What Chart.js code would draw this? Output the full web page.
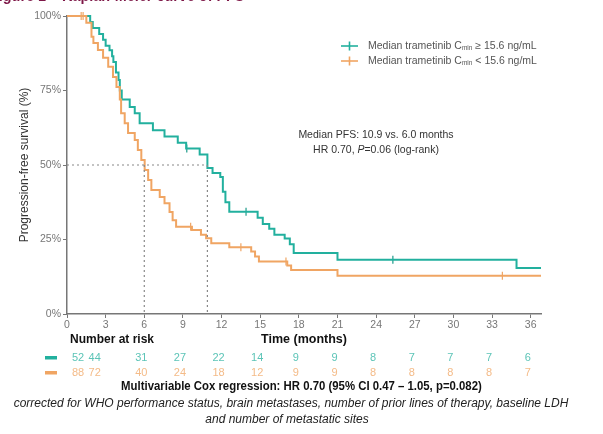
<!DOCTYPE html>
<html>
<head>
<meta charset="utf-8">
<script src="https://cdn.jsdelivr.net/npm/chart.js@4.4.0/dist/chart.umd.min.js"></script>
<style>
  html, body { margin: 0; padding: 0; background: #fff; }
  #wrap { position: relative; width: 603px; height: 434px; overflow: hidden; }
  #km { position: absolute; left: 0; top: 0; }
  .txt { position: absolute; white-space: nowrap; font-family: "Liberation Sans", Arial, sans-serif; }
  #fig { left: -10px; top: -13px; font-weight: bold; font-size: 16px; color: #7d1747; transform: scaleX(0.9); transform-origin: left top; }
  #cox { left: 0; width: 603px; text-align: center; top: 379px; font-weight: bold; font-size: 12.5px; color: #111; transform: scaleX(0.91); transform-origin: 301px 0; }
  #adj1 { left: 0; width: 582px; text-align: center; top: 396px; font-style: italic; font-size: 12px; color: #222; }
  #adj2 { left: 0; width: 574px; text-align: center; top: 412px; font-style: italic; font-size: 12px; color: #222; }
</style>
</head>
<body>
<div id="wrap">
  <canvas id="km" width="603" height="434"></canvas>
  <div class="txt" id="fig">Figure 1 – Kaplan-Meier curve of PFS</div>
  <div class="txt" id="cox">Multivariable Cox regression: HR 0.70 (95% CI 0.47 – 1.05, p=0.082)</div>
  <div class="txt" id="adj1">corrected for WHO performance status, brain metastases, number of prior lines of therapy, baseline LDH</div>
  <div class="txt" id="adj2">and number of metastatic sites</div>
</div>
<script>
// survival curves (months, % progression-free)
const xTicks = [0, 3, 6, 9, 12, 15, 18, 21, 24, 27, 30, 33, 36];
const yTicks = [0, 25, 50, 75, 100];

const tealTimes = [0, 1.8, 2.0, 2.5, 2.8, 3.0, 3.3, 3.5, 3.6, 3.8, 4.0, 4.1, 4.25, 4.87, 5.26, 5.64, 6.67, 7.57, 8.6, 9.25,
  10.3, 10.9, 11.3, 11.9, 12.1, 12.3, 12.6, 14.8, 15.2, 15.7, 16.1, 16.9, 17.3, 17.6, 21.0, 34.9, 36.8];
const tealSurv = [100, 98, 96, 94, 92, 90, 88.5, 86.5, 84.6, 81, 78.5, 75, 72, 69.5, 67.4, 64, 61.7, 59.6, 57.5, 55.5,
  53.5, 49, 47.3, 46, 41, 37.5, 34.3, 32.3, 30.2, 28.6, 26.6, 25.3, 23.4, 20.5, 18.2, 15.4, 15.4];
const tealCensor = [9.3, 13.9, 25.3];

const orangeTimes = [0, 1.5, 1.9, 2.05, 2.4, 2.8, 3.2, 3.57, 3.84, 4.1, 4.2, 4.48, 4.74, 5.26, 5.5, 5.77, 6.03, 6.3, 6.55, 7.2,
  7.57, 7.96, 8.2, 8.47, 9.7, 10.4, 10.8, 11.2, 12.6, 14.3, 14.6, 14.9, 17.1, 17.4, 21.0, 36.8];
const orangeSurv = [100, 97.7, 93, 90.9, 88.6, 86, 83, 79.5, 76.2, 72, 67.4, 64, 60.7, 58.4, 55, 51.7, 48.3, 45, 41.6, 39.3,
  37.2, 34.2, 31.5, 29.3, 28.2, 26.6, 25.4, 23.7, 22.4, 21, 19.3, 17.6, 16.3, 14.8, 12.8, 12.8];
const orangeCensor = [1.1, 1.25, 9.6, 13.5, 17.0, 33.8];

const medianTimes = [10.9, 6.0];   // teal, orange
const tealAtRisk = [52, 44, 31, 27, 22, 14, 9, 9, 8, 7, 7, 7, 6];
const orangeAtRisk = [88, 72, 40, 24, 18, 12, 9, 9, 8, 8, 8, 8, 7];

const seriesLabels = ['Median trametinib C', 'Median trametinib C'];
const seriesTails = [' ≥ 15.6 ng/mL', ' < 15.6 ng/mL'];

const TEAL = '#22b09e';
const ORANGE = '#f0a563';
const SANS = '"Liberation Sans", Arial, sans-serif';

function stepValue(times, surv, t) {
  let v = surv[0];
  for (let i = 0; i < times.length; i++) { if (times[i] <= t) v = surv[i]; }
  return v;
}
const pts = (times, surv) => times.map((t, i) => ({x: t, y: surv[i]}));
const censorPts = (c, times, surv) => c.map(t => ({x: t, y: stepValue(times, surv, t)}));

// medians: horizontal to the later median, then drop lines
const medianH = [{x: 0, y: 50}, {x: medianTimes[0], y: 50}];
const medianV1 = [{x: medianTimes[0], y: 50}, {x: medianTimes[0], y: 0}];
const medianV2 = [{x: medianTimes[1], y: 50}, {x: medianTimes[1], y: 0}];

const extras = {
  id: 'extras',
  afterDraw(chart) {
    const ctx = chart.ctx;
    const xs = chart.scales.x;
    ctx.save();

    // legend
    const rows = [[TEAL, 46], [ORANGE, 61]];
    rows.forEach(([col, y], i) => {
      ctx.strokeStyle = col; ctx.lineWidth = 1.6;
      ctx.beginPath(); ctx.moveTo(341, y); ctx.lineTo(358, y); ctx.stroke();
      ctx.beginPath(); ctx.moveTo(349.5, y - 4.5); ctx.lineTo(349.5, y + 4.5); ctx.stroke();
      ctx.fillStyle = '#555'; ctx.textBaseline = 'middle'; ctx.textAlign = 'left';
      ctx.font = '10.5px ' + SANS;
      let x = 368;
      ctx.fillText(seriesLabels[i], x, y);
      x += ctx.measureText(seriesLabels[i]).width;
      ctx.font = '6.5px ' + SANS;
      ctx.fillText('min', x, y + 2.5);
      x += ctx.measureText('min').width;
      ctx.font = '10.5px ' + SANS;
      ctx.fillText(seriesTails[i], x, y);
    });

    // annotation
    ctx.fillStyle = '#333'; ctx.textAlign = 'center'; ctx.font = '10.5px ' + SANS;
    ctx.fillText('Median PFS: 10.9 vs. 6.0 months', 376, 135);
    const a = 'HR 0.70, ', p = 'P', b = '=0.06 (log-rank)';
    ctx.textAlign = 'left';
    const wa = ctx.measureText(a).width, wb = ctx.measureText(b).width;
    ctx.font = 'italic 10.5px ' + SANS;
    const wp = ctx.measureText(p).width;
    let x0 = 376 - (wa + wp + wb) / 2;
    ctx.font = '10.5px ' + SANS; ctx.fillText(a, x0, 150);
    ctx.font = 'italic 10.5px ' + SANS; ctx.fillText(p, x0 + wa, 150);
    ctx.font = '10.5px ' + SANS; ctx.fillText(b, x0 + wa + wp, 150);

    // number at risk
    ctx.fillStyle = '#111'; ctx.font = 'bold 12px ' + SANS; ctx.textAlign = 'left';
    ctx.fillText('Number at risk', 70, 340);
    ctx.fillStyle = TEAL; ctx.fillRect(45, 356, 12, 3.5);
    ctx.fillStyle = ORANGE; ctx.fillRect(45, 371, 12, 3.5);
    ctx.font = '11px ' + SANS; ctx.textAlign = 'center';
    xTicks.forEach((t, i) => {
      let px = xs.getPixelForValue(t) - 3;
      if (i === 0) px += 14;
      if (i === 1) px -= 8;
      ctx.fillStyle = '#5cc4b7'; ctx.fillText(String(tealAtRisk[i]), px, 357.5);
      ctx.fillStyle = '#f4bb88'; ctx.fillText(String(orangeAtRisk[i]), px, 372.5);
    });
    ctx.restore();
  }
};

new Chart(document.getElementById('km'), {
  type: 'line',
  data: {
    datasets: [
      {data: medianH, borderColor: '#888', borderWidth: 1.2, borderDash: [2, 3], pointRadius: 0},
      {data: medianV1, borderColor: '#888', borderWidth: 1.2, borderDash: [2, 3], pointRadius: 0},
      {data: medianV2, borderColor: '#888', borderWidth: 1.2, borderDash: [2, 3], pointRadius: 0},
      {data: pts(orangeTimes, orangeSurv), borderColor: ORANGE, borderWidth: 2, stepped: 'before', pointRadius: 0},
      {data: pts(tealTimes, tealSurv), borderColor: TEAL, borderWidth: 2, stepped: 'before', pointRadius: 0},
      {type: 'scatter', data: censorPts(orangeCensor, orangeTimes, orangeSurv), pointStyle: 'line', rotation: 90,
        radius: 4, borderColor: ORANGE, borderWidth: 1.2},
      {type: 'scatter', data: censorPts(tealCensor, tealTimes, tealSurv), pointStyle: 'line', rotation: 90,
        radius: 4, borderColor: '#1d9a8a', borderWidth: 1.2}
    ]
  },
  options: {
    responsive: false,
    animation: false,
    devicePixelRatio: 1,
    clip: 6,
    layout: {padding: {left: 0, top: 16, right: 62, bottom: 0}},
    plugins: {legend: {display: false}, tooltip: {enabled: false}},
    scales: {
      x: {
        type: 'linear', min: 0, max: 36.8,
        afterBuildTicks: s => { s.ticks = xTicks.map(v => ({value: v})); },
        afterFit: s => { s.height = 120; },
        grid: {drawOnChartArea: false, tickLength: 4, color: '#777'},
        border: {color: '#777', width: 1.5},
        ticks: {color: '#777', font: {size: 10.5, family: SANS}, padding: 1, maxRotation: 0},
        title: {display: true, text: 'Time (months)', color: '#111',
          font: {size: 12.5, weight: 'bold', family: SANS}, padding: {top: 0, bottom: 87}}
      },
      y: {
        min: 0, max: 100,
        afterBuildTicks: s => { s.ticks = yTicks.map(v => ({value: v})); },
        afterFit: s => { s.width = 67; },
        grid: {drawOnChartArea: false, tickLength: 4, color: '#777'},
        border: {color: '#777', width: 1.5},
        ticks: {color: '#777', font: {size: 10.5, family: SANS}, padding: 2, callback: v => v + '%'},
        title: {display: true, text: 'Progression-free survival (%)', color: '#333',
          font: {size: 12, family: SANS}, padding: {top: 17, bottom: 0}}
      }
    }
  },
  plugins: [extras]
});
</script>
</body>
</html>
